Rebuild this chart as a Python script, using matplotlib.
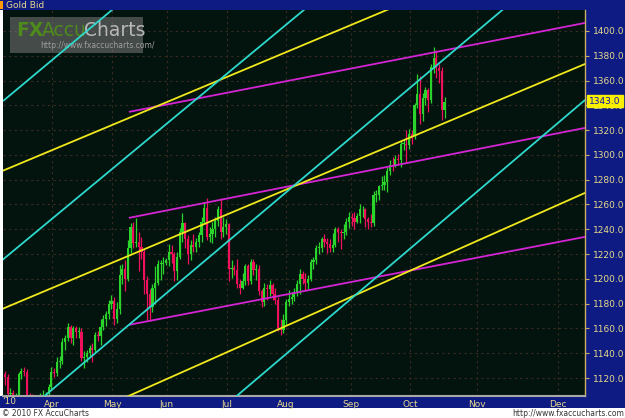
import numpy as np
import matplotlib
matplotlib.use('Agg')
import matplotlib.pyplot as plt
from matplotlib.patches import Rectangle

plt.rcParams['font.family'] = 'DejaVu Sans'

# Daily gold bid candles, 9 Mar 2010 - 20 Oct 2010 (one entry per trading day)
opens = [1123, 1121, 1107, 1108, 1102, 1104, 1123, 1126, 1125, 1106, 1104, 1100, 1088, 1089, 1106, 1106, 1107,
         1113, 1125, 1124, 1133, 1134, 1149, 1152, 1161, 1152, 1160, 1157, 1157, 1136, 1137, 1140, 1144, 1143, 1155, 1154, 1161, 1168, 1172,
         1180, 1182, 1168, 1176, 1203, 1208, 1200, 1225, 1242, 1229, 1230, 1226, 1222, 1199, 1188, 1177, 1193, 1197, 1212, 1212, 1213,
         1215, 1222, 1220, 1206, 1218, 1238, 1245, 1232, 1220, 1227, 1226, 1230, 1235, 1246, 1257, 1234, 1236, 1240, 1247, 1256, 1238, 1242,
         1244, 1208, 1209, 1207, 1196, 1193, 1198, 1210, 1198, 1214, 1207, 1208, 1190, 1181, 1193, 1192, 1195, 1188, 1183, 1160, 1159, 1167,
         1181, 1184, 1185, 1189, 1196, 1204, 1200, 1197, 1200, 1214, 1215, 1225, 1225, 1232, 1230, 1228, 1225, 1227, 1240, 1238, 1237, 1238,
         1246, 1250, 1249, 1246, 1251, 1256, 1256, 1248, 1246, 1245, 1268, 1268, 1275, 1276, 1278, 1287, 1292, 1291, 1297, 1296, 1309, 1309,
         1308, 1317, 1315, 1340, 1349, 1333, 1346, 1352, 1344, 1371, 1378, 1370, 1368, 1336]
highs = [1126, 1123, 1112, 1110, 1108, 1125, 1128, 1129, 1127, 1108, 1107, 1103, 1091, 1108, 1110, 1109, 1115,
         1129, 1128, 1137, 1138, 1152, 1155, 1164, 1163, 1162, 1162, 1161, 1160, 1142, 1143, 1147, 1148, 1157, 1158, 1168, 1171, 1174, 1183,
         1187, 1185, 1181, 1211, 1212, 1215, 1231, 1245, 1246, 1249, 1238, 1234, 1224, 1202, 1192, 1196, 1210, 1215, 1215, 1218, 1217,
         1228, 1227, 1222, 1222, 1241, 1253, 1246, 1235, 1231, 1236, 1233, 1238, 1250, 1262, 1265, 1242, 1246, 1250, 1259, 1265, 1250, 1248,
         1245, 1215, 1211, 1216, 1200, 1205, 1212, 1212, 1216, 1216, 1212, 1211, 1192, 1197, 1196, 1199, 1197, 1193, 1185, 1168, 1172, 1184,
         1191, 1189, 1193, 1199, 1208, 1206, 1205, 1203, 1216, 1218, 1227, 1230, 1234, 1236, 1233, 1232, 1237, 1242, 1242, 1240, 1244, 1249,
         1254, 1253, 1254, 1253, 1260, 1259, 1257, 1250, 1252, 1271, 1272, 1276, 1283, 1284, 1290, 1296, 1298, 1300, 1301, 1311, 1313, 1320,
         1321, 1320, 1342, 1365, 1364, 1350, 1355, 1354, 1373, 1387, 1385, 1373, 1371, 1347]
lows = [1114, 1104, 1103, 1100, 1099, 1101, 1119, 1122, 1104, 1100, 1097, 1085, 1083, 1086, 1102, 1103, 1105,
        1111, 1121, 1122, 1128, 1131, 1143, 1150, 1148, 1147, 1152, 1152, 1134, 1128, 1133, 1138, 1133, 1141, 1150, 1147, 1159, 1162, 1168,
        1176, 1163, 1164, 1172, 1196, 1190, 1198, 1221, 1225, 1226, 1206, 1216, 1188, 1167, 1166, 1173, 1180, 1195, 1199, 1204, 1211,
        1210, 1213, 1198, 1199, 1216, 1230, 1225, 1212, 1215, 1222, 1222, 1226, 1230, 1244, 1231, 1230, 1229, 1234, 1243, 1232, 1234, 1236,
        1198, 1201, 1203, 1193, 1188, 1192, 1195, 1195, 1196, 1203, 1199, 1187, 1177, 1178, 1183, 1186, 1183, 1180, 1158, 1155, 1156, 1163,
        1178, 1180, 1182, 1186, 1188, 1196, 1191, 1192, 1198, 1208, 1212, 1220, 1222, 1226, 1221, 1222, 1222, 1226, 1230, 1224, 1232, 1235,
        1241, 1243, 1240, 1245, 1245, 1250, 1242, 1240, 1242, 1243, 1262, 1264, 1272, 1272, 1270, 1284, 1287, 1290, 1292, 1290, 1304, 1294,
        1305, 1309, 1313, 1338, 1325, 1327, 1340, 1335, 1342, 1366, 1362, 1358, 1328, 1330]
closes = [1121, 1107, 1108, 1102, 1104, 1123, 1126, 1125, 1106, 1104, 1100, 1088, 1089, 1106, 1106, 1107, 1113,
          1125, 1124, 1133, 1134, 1149, 1152, 1161, 1152, 1160, 1157, 1157, 1136, 1137, 1140, 1144, 1143, 1155, 1154, 1161, 1168, 1172, 1180,
          1182, 1168, 1176, 1203, 1208, 1200, 1225, 1242, 1229, 1230, 1226, 1222, 1199, 1188, 1177, 1193, 1197, 1212, 1212, 1213, 1215,
          1222, 1220, 1206, 1218, 1238, 1245, 1232, 1220, 1227, 1226, 1230, 1235, 1246, 1257, 1234, 1236, 1240, 1247, 1256, 1238, 1242, 1244,
          1208, 1209, 1207, 1196, 1193, 1198, 1210, 1198, 1214, 1207, 1208, 1190, 1181, 1193, 1192, 1195, 1188, 1183, 1160, 1159, 1167, 1181,
          1184, 1185, 1189, 1196, 1204, 1200, 1197, 1200, 1214, 1215, 1225, 1225, 1232, 1230, 1228, 1225, 1227, 1240, 1238, 1237, 1238, 1246,
          1250, 1249, 1246, 1251, 1256, 1256, 1248, 1246, 1245, 1268, 1268, 1275, 1276, 1278, 1287, 1292, 1291, 1297, 1296, 1309, 1309, 1308,
          1317, 1315, 1340, 1349, 1333, 1346, 1352, 1344, 1371, 1378, 1370, 1368, 1336, 1343]

last_price = 1343.0

# month labels on the time axis (trading-day index)
month_pos = [17.2, 39.2, 59.3, 81.3, 102.9, 126.7, 148.4, 172.9, 202.6]
month_labels = ['Apr', 'May', 'Jun', 'Jul', 'Aug', 'Sep', 'Oct', 'Nov', 'Dec']
price_ticks = [1120, 1140, 1160, 1180, 1200, 1220, 1240, 1260, 1280, 1300, 1320, 1340, 1360, 1380, 1400]

# trend lines: (x0, price0, x1, price1)
magenta_lines = [(45.4, 1334.7, 212.5, 1406.5),
                 (45.4, 1249.2, 212.5, 1321.8),
                 (45.4, 1162.9, 212.5, 1233.9)]
yellow_lines = [(-1.8, 1286.3, 142.9, 1419.7),
                (-1.8, 1175.0, 212.5, 1373.4),
                (42.1, 1102.4, 212.5, 1269.4)]
cyan_lines = [(-0.7, 1343.5, 41.4, 1421.0),
              (-1.8, 1213.7, 111.7, 1421.0),
              (12.8, 1102.4, 183.5, 1419.4),
              (83.2, 1102.4, 212.5, 1344.4)]

W, H = 625, 418
BLUE = '#0e1b82'
TXT = '#e6da8c'
BG = '#03140f'


def fx(px):
    return px / W


def fy(py):
    return 1 - py / H


fig = plt.figure(figsize=(6.25, 4.18), dpi=100)
fig.patch.set_facecolor('white')

# frame pieces: title bar, right price panel, bottom date band (behind the axes)
for rect in [(0, fy(10), 1, 10 / H),
             (fx(585), fy(408), 40 / W, 398 / H),
             (0, fy(408), 1, 12 / H)]:
    fig.add_artist(Rectangle(rect[:2], rect[2], rect[3], transform=fig.transFigure,
                             facecolor=BLUE, edgecolor='none', zorder=-10))
fig.add_artist(Rectangle((0, fy(9)), 3 / W, 8 / H, transform=fig.transFigure,
                         facecolor='#ff9a00', edgecolor='none', zorder=-9))
fig.text(fx(6), fy(5), 'Gold Bid', color=TXT, fontsize=6.5, va='center', ha='left')

ax = fig.add_axes([fx(3), fy(396), (585 - 3) / W, (396 - 10) / H])
ax.set_facecolor(BG)

# watermark
ax.add_patch(Rectangle((fx(10), fy(53)), 133 / W, 36 / H, transform=fig.transFigure,
                       facecolor='#7a7a7a', alpha=0.55, edgecolor='none', zorder=0.5))
ax.text(fx(16), fy(31), 'FX', transform=fig.transFigure, color='#4f8a1c', fontsize=13.5,
        fontweight='bold', va='center', ha='left', zorder=0.6)
ax.text(fx(42), fy(31), 'Accu', transform=fig.transFigure, color='#4f8a1c', fontsize=13.5,
        va='center', ha='left', zorder=0.6)
ax.text(fx(84), fy(31), 'Charts', transform=fig.transFigure, color='#b8b8b8', fontsize=13.5,
        va='center', ha='left', zorder=0.6)
ax.text(fx(40), fy(45), 'http://www.fxaccucharts.com/', transform=fig.transFigure, color='#a0a0a0',
        fontsize=5.5, va='center', ha='left', zorder=0.6)

# grid
for p in price_ticks:
    ax.axhline(p, color='#3a2a22', linestyle=(0, (2, 3)), linewidth=0.8, zorder=0.4)
for m in month_pos:
    ax.axvline(m, color='#3a2a22', linestyle=(0, (2, 3)), linewidth=0.8, zorder=0.4)

# candles
x = np.arange(len(closes))
o = np.array(opens)
c = np.array(closes)
up = c >= o
col = np.where(up, '#2ad42a', '#f0105c')
ax.vlines(x, lows, highs, colors=col, linewidth=0.9, zorder=2)
ax.bar(x, np.maximum(np.abs(c - o), 0.6), bottom=np.minimum(o, c), width=0.8,
       color=col, edgecolor='none', zorder=2.1)

# trend lines
for group, color in [(magenta_lines, '#d424d4'), (yellow_lines, '#f0e81c'), (cyan_lines, '#2ed8cc')]:
    for x0, y0, x1, y1 in group:
        ax.plot([x0, x1], [y0, y1], color=color, linewidth=1.3, zorder=3, solid_capstyle='butt')

ax.set_xlim(-0.73, 212.45)
ax.set_ylim(1105.5, 1416.9)

ax.yaxis.tick_right()
ax.set_yticks(price_ticks)
ax.set_yticklabels([f'{p:.1f}' for p in price_ticks])
ax.tick_params(axis='y', colors='#c8b060', labelcolor=TXT, labelsize=6.5, length=3, width=0.8, pad=3, direction='out')
ax.set_xticks(month_pos)
ax.set_xticklabels(month_labels)
ax.tick_params(axis='x', length=0, labelcolor=TXT, labelsize=6.5, pad=3)

for s in ['top', 'left']:
    ax.spines[s].set_visible(False)
ax.spines['right'].set_color('#c8b060')
ax.spines['right'].set_linewidth(1)
ax.spines['bottom'].set_color('#a8a8a8')
ax.spines['bottom'].set_linewidth(1.5)

fig.text(fx(2), fy(402), "'10", color=TXT, fontsize=6.5, va='center', ha='left')

# last price marker
fig.text(fx(605), fy(101), f'{last_price:.1f}', color='#1010b0', fontsize=6.5, va='center', ha='center',
         zorder=5, bbox=dict(boxstyle='square,pad=0.2', facecolor='#f8f000', edgecolor='#f8f000'))

# footer
fig.text(fx(2), fy(413), '\u00a9 2010 FX AccuCharts', color='#333333', fontsize=5.5, va='center', ha='left')
fig.text(fx(624), fy(413), 'http://www.fxaccucharts.com', color='#333333', fontsize=5.5, va='center', ha='right')

fig.savefig('out.png', dpi=100, facecolor=fig.get_facecolor())
